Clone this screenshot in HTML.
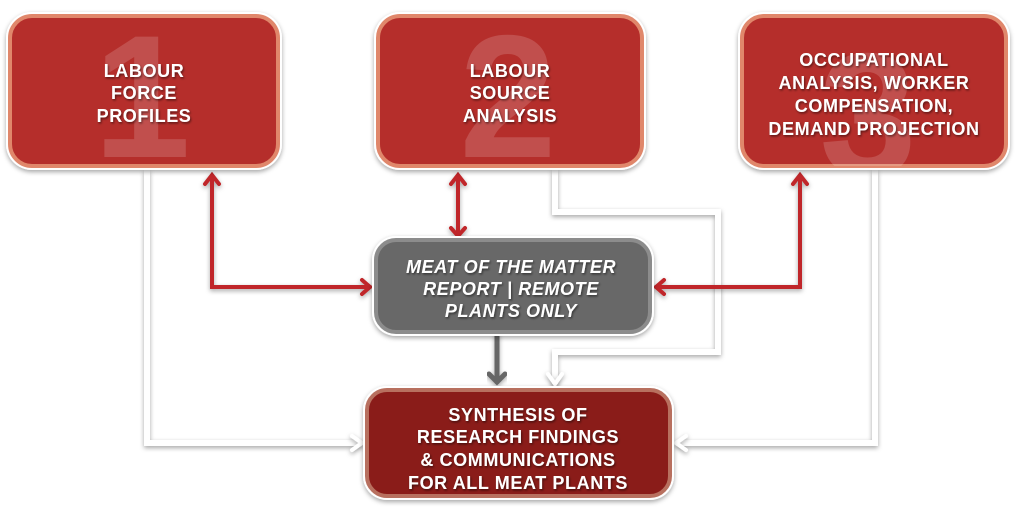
<!DOCTYPE html>
<html><head><style>
body{margin:0;background:#fff;}
svg{display:block}
text{font-family:"Liberation Sans",sans-serif;font-weight:bold;fill:#fff;text-anchor:middle;}
</style></head><body>
<svg width="1024" height="518" viewBox="0 0 1024 518">
<defs>
<filter id="sh" x="-10%" y="-10%" width="120%" height="130%"><feDropShadow dx="0" dy="2" stdDeviation="2.5" flood-color="#000" flood-opacity="0.35"/></filter>
<filter id="ts"><feDropShadow dx="1" dy="1.5" stdDeviation="1" flood-color="#000" flood-opacity="0.5"/></filter>
<clipPath id="c1"><rect x="10" y="16" width="268" height="150" rx="22"/></clipPath>
<clipPath id="c2"><rect x="378" y="16" width="264" height="150" rx="22"/></clipPath>
<clipPath id="c3"><rect x="742" y="16" width="264" height="150" rx="22"/></clipPath>
</defs>
<g fill="none" stroke="#fff" stroke-width="6" filter="url(#sh)" stroke-linejoin="miter">
<polyline points="147,170 147,443 360,443"/>
<polyline points="875,170 875,443 678,443"/>
<polyline points="555,170 555,212 718,212 718,352 555,352 555,384"/>
</g>
<g fill="none" stroke="#fff" stroke-width="4" stroke-linecap="round" filter="url(#sh)">
<polyline points="352,436 362,443 352,450"/>
<polyline points="686,436 676,443 686,450"/>
<polyline points="548,374 555,384 562,374"/>
</g>
<g fill="none" stroke="#c0282a" stroke-width="4" stroke-linecap="round" filter="url(#sh)">
<polyline points="212,176 212,287 370,287"/>
<polyline points="205,184 212,175 219,184"/>
<polyline points="362,280 370,287 362,294"/>
<polyline points="458,176 458,236"/>
<polyline points="451,184 458,175 465,184"/>
<polyline points="451,228 458,236 465,228"/>
<polyline points="800,176 800,287 656,287"/>
<polyline points="793,184 800,175 807,184"/>
<polyline points="664,280 656,287 664,294"/>
</g>
<g fill="none" stroke="#666" stroke-width="5" stroke-linecap="round" filter="url(#sh)">
<polyline points="497,334 497,382"/>
<polyline points="489,374 497,382 505,374"/>
</g>
<g filter="url(#sh)" fill="#fff">
<rect x="6" y="12" width="276" height="158" rx="26"/>
<rect x="374" y="12" width="272" height="158" rx="26"/>
<rect x="738" y="12" width="272" height="158" rx="26"/>
<rect x="372" y="236" width="282" height="100" rx="24"/>
<rect x="363" y="386" width="311" height="114" rx="24"/>
</g>
<g stroke-width="4">
<rect x="10" y="16" width="268" height="150" rx="22" fill="#b52e2b" stroke="#e0876b"/>
<rect x="378" y="16" width="264" height="150" rx="22" fill="#b52e2b" stroke="#e0876b"/>
<rect x="742" y="16" width="264" height="150" rx="22" fill="#b52e2b" stroke="#e0876b"/>
<rect x="376" y="240" width="274" height="92" rx="20" fill="#686868" stroke="#8c8c8c"/>
<rect x="367" y="390" width="303" height="106" rx="20" fill="#8a1c19" stroke="#b8705f"/>
</g>
<text x="142" y="157" clip-path="url(#c1)" style="font-size:175px;fill:#fff;fill-opacity:0.16">1</text>
<text x="508" y="157" clip-path="url(#c2)" style="font-size:175px;fill:#fff;fill-opacity:0.16">2</text>
<text x="868" y="175" clip-path="url(#c3)" style="font-size:175px;fill:#fff;fill-opacity:0.16">3</text>
<g filter="url(#ts)" style="font-size:18px;letter-spacing:0.6px">
<text x="144" y="77">LABOUR</text>
<text x="144" y="99">FORCE</text>
<text x="144" y="122">PROFILES</text>
<text x="510" y="77">LABOUR</text>
<text x="510" y="99">SOURCE</text>
<text x="510" y="122">ANALYSIS</text>
<text x="874" y="66">OCCUPATIONAL</text>
<text x="874" y="89">ANALYSIS, WORKER</text>
<text x="874" y="112">COMPENSATION,</text>
<text x="874" y="135">DEMAND PROJECTION</text>
<g style="font-style:italic">
<text x="511" y="273">MEAT OF THE MATTER</text>
<text x="511" y="295">REPORT | REMOTE</text>
<text x="511" y="317">PLANTS ONLY</text>
</g>
<text x="518" y="421">SYNTHESIS OF</text>
<text x="518" y="443">RESEARCH FINDINGS</text>
<text x="518" y="466">&amp; COMMUNICATIONS</text>
<text x="518" y="489">FOR ALL MEAT PLANTS</text>
</g>
</svg>
</body></html>
